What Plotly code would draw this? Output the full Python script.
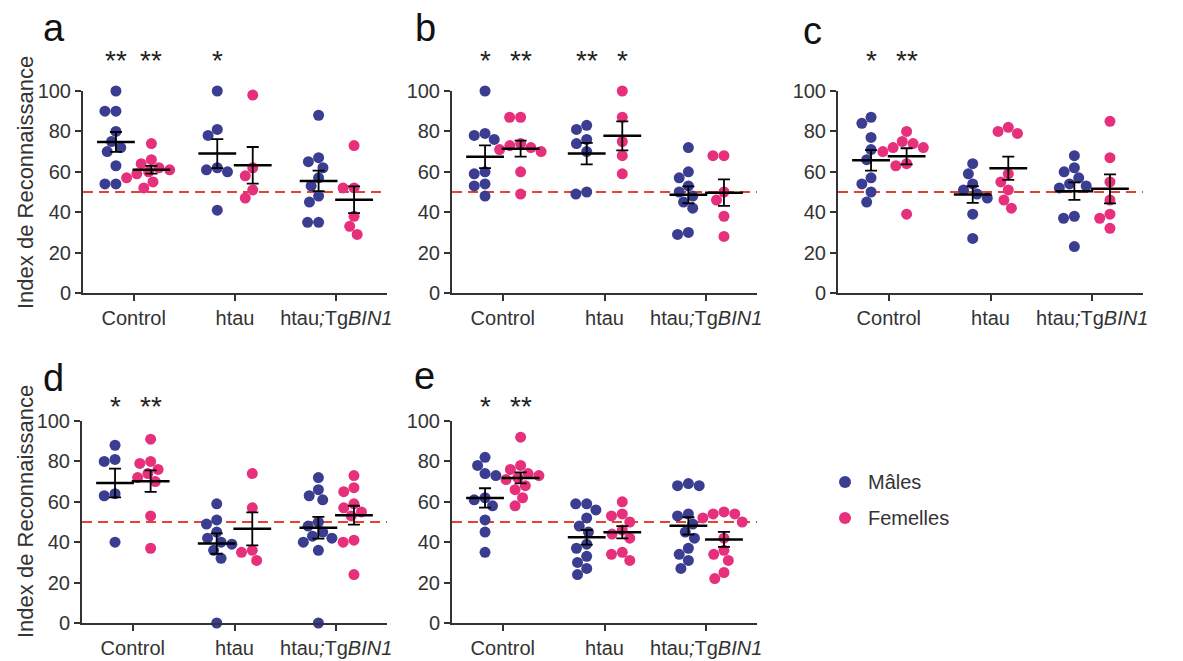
import math
import numpy as np
import plotly.graph_objects as go

# the page body has an 8px margin, so the figure is drawn 8px smaller and
# every reference pixel position is shifted by that amount
PAD = 8
W, H = 1183 - PAD, 661 - PAD

categories = ["Control", "htau", "htau<i>;</i>Tg<i>BIN1</i>"]
panel_labels = ["a", "b", "c", "d", "e"]

# values per category: [Control, htau, htau;TgBIN1]
a_males = [[100, 90, 90, 80, 75, 72, 70, 63, 54, 54],
           [100, 81, 78, 62, 61, 60, 41],
           [88, 67, 65, 62, 57, 53, 48, 45, 35, 35]]
a_females = [[74, 66, 64, 62, 61, 60, 59, 57, 55, 52],
             [98, 62, 58, 51, 47],
             [73, 52, 52, 38, 33, 29]]

b_males = [[100, 79, 78, 76, 60, 59, 54, 53, 48],
           [83, 81, 76, 74, 70, 50, 49],
           [72, 60, 57, 53, 50, 48, 45, 42, 30, 29]]
b_females = [[87, 87, 74, 73, 72, 71, 70, 60, 49],
             [100, 87, 75, 68, 59],
             [68, 68, 50, 46, 38, 28]]

c_males = [[87, 84, 77, 71, 66, 57, 54, 50, 45],
           [64, 59, 54, 51, 49, 47, 39, 27],
           [68, 62, 60, 57, 54, 53, 52, 38, 37, 23]]
c_females = [[80, 75, 74, 72, 72, 70, 64, 63, 39],
             [82, 80, 79, 59, 55, 51, 46, 42],
             [85, 67, 55, 46, 39, 37, 32]]

d_males = [[88, 81, 80, 64, 63, 40],
           [59, 51, 49, 45, 42, 40, 39, 36, 32, 0],
           [72, 66, 63, 61, 50, 48, 45, 43, 42, 40, 36, 0]]
d_females = [[91, 80, 79, 76, 74, 72, 70, 53, 37],
             [74, 57, 36, 35, 31],
             [73, 67, 65, 59, 57, 55, 53, 41, 40, 24]]

e_males = [[82, 78, 74, 73, 62, 61, 58, 51, 45, 35],
           [59, 59, 56, 52, 48, 45, 39, 37, 33, 30, 27, 24],
           [69, 68, 68, 54, 53, 49, 45, 42, 37, 34, 31, 27]]
e_females = [[92, 78, 76, 74, 73, 72, 71, 68, 66, 62, 58],
             [60, 54, 53, 50, 46, 44, 42, 35, 34, 31],
             [55, 54, 54, 52, 50, 42, 36, 34, 31, 25, 22]]

# significance stars: (category index, sex, text)
a_stars = [(0, "M", "**"), (0, "F", "**"), (1, "M", "*")]
b_stars = [(0, "M", "*"), (0, "F", "**"), (1, "M", "**"), (1, "F", "*")]
c_stars = [(0, "M", "*"), (0, "F", "**")]
d_stars = [(0, "M", "*"), (0, "F", "**")]
e_stars = [(0, "M", "*"), (0, "F", "**")]

legend_names = ["Mâles", "Femelles"]
y_title = "Index de Reconnaissance"

MALE = "#3b3d90"
FEMALE = "#e6307b"
TXT = "#333333"
FONT = "Liberation Sans, Arial, sans-serif"

panels = [
    (a_males, a_females, a_stars, (83, 387), "top"),
    (b_males, b_females, b_stars, (452, 757), "top"),
    (c_males, c_females, c_stars, (838, 1143), "top"),
    (d_males, d_females, d_stars, (82, 387), "bottom"),
    (e_males, e_females, e_stars, (452, 757), "bottom"),
]
rows = {"top": (91, 293), "bottom": (421, 623)}
OFF = 0.175
DIAM = 11


def px_x(x):
    return (x - PAD) / W


def px_y(y):
    return 1 - (y - PAD) / H


def swarm(vals, xpx, ypx):
    # simple beeswarm: place each point nearest the centre without overlap
    order = sorted(range(len(vals)), key=lambda i: -vals[i])
    placed = []
    offs = [0.0] * len(vals)
    for i in order:
        y = vals[i] * ypx
        cands = {0.0}
        for px, py in placed:
            dy = y - py
            if abs(dy) < DIAM:
                d = math.sqrt(DIAM ** 2 - dy ** 2)
                cands.add(px + d)
                cands.add(px - d)
        for c in sorted(cands, key=lambda v: (abs(v), v)):
            if all((c - px) ** 2 + (y - py) ** 2 >= DIAM ** 2 - 1e-6 for px, py in placed):
                break
        placed.append((c, y))
        offs[i] = c / xpx
    return offs


fig = go.Figure()
layout = {}
annotations = []
shapes = []

for k, (males, females, stars, (x0, x1), row) in enumerate(panels):
    n = "" if k == 0 else str(k + 1)
    xa, ya = "x" + n, "y" + n
    ytop, ybot = rows[row]
    xpx = (x1 - x0) / 3.0
    ypx = (ybot - ytop) / 100.0

    for sex, groups, color, sgn in [("M", males, MALE, -1), ("F", females, FEMALE, 1)]:
        xs, ys, mx, my, se = [], [], [], [], []
        for ci, vals in enumerate(groups):
            centre = ci + sgn * OFF
            for v, o in zip(vals, swarm(vals, xpx, ypx)):
                xs.append(centre + o)
                ys.append(v)
            arr = np.array(vals, dtype=float)
            mx.append(centre)
            my.append(arr.mean())
            se.append(arr.std(ddof=1) / math.sqrt(len(arr)))
        fig.add_trace(go.Scatter(x=xs, y=ys, mode="markers", xaxis=xa, yaxis=ya,
                                 marker=dict(color=color, size=DIAM, line=dict(width=0)),
                                 cliponaxis=False, showlegend=False, hoverinfo="y"))
        fig.add_trace(go.Scatter(x=mx, y=my, mode="markers", xaxis=xa, yaxis=ya,
                                 marker=dict(symbol="line-ew", size=27, color="black",
                                             line=dict(color="black", width=2.5)),
                                 error_y=dict(type="data", array=se, color="black",
                                              thickness=1.8, width=6),
                                 cliponaxis=False, showlegend=False))

    axis_common = dict(showline=True, linecolor=TXT, linewidth=2, ticks="outside",
                       ticklen=6, tickwidth=2, tickcolor=TXT, showgrid=False,
                       zeroline=False, automargin=False,
                       tickfont=dict(size=20, color=TXT, family=FONT))
    layout["xaxis" + n] = dict(axis_common, domain=[px_x(x0), px_x(x1)], range=[-0.5, 2.5],
                               tickvals=[0, 1, 2], ticktext=categories, anchor=ya)
    layout["yaxis" + n] = dict(axis_common, domain=[px_y(ybot), px_y(ytop)], range=[0, 100],
                               tickvals=[0, 20, 40, 60, 80, 100], anchor=xa)

    shapes.append(dict(type="line", xref=xa + " domain", yref=ya, x0=0, x1=1, y0=50, y1=50,
                       line=dict(color="#e4432d", width=2, dash="10px,6px"), layer="below"))

    star_y = 61 if row == "top" else 406
    for ci, sex, txt in stars:
        annotations.append(dict(text=txt, xref=xa, yref="paper",
                                x=ci + (-OFF if sex == "M" else OFF), y=px_y(star_y),
                                showarrow=False, font=dict(size=28, color="#222", family=FONT),
                                xanchor="center", yanchor="middle"))

letter_pos = [(54, 28), (425, 28), (812, 31), (53, 378), (424, 376)]
for lab, (lx, ly) in zip(panel_labels, letter_pos):
    annotations.append(dict(text=lab, xref="paper", yref="paper", x=px_x(lx), y=px_y(ly),
                            showarrow=False, font=dict(size=38, color="#111", family=FONT),
                            xanchor="center", yanchor="middle"))

for cy in (183, 512):
    annotations.append(dict(text=y_title, xref="paper", yref="paper", x=px_x(25), y=px_y(cy),
                            textangle=-90, showarrow=False,
                            font=dict(size=22, color=TXT, family=FONT),
                            xanchor="center", yanchor="middle"))

for name, color, cy in [(legend_names[0], MALE, 482), (legend_names[1], FEMALE, 518)]:
    shapes.append(dict(type="circle", xref="paper", yref="paper",
                       xsizemode="pixel", ysizemode="pixel",
                       xanchor=px_x(845), yanchor=px_y(cy), x0=-6, x1=6, y0=-6, y1=6,
                       fillcolor=color, line=dict(width=0)))
    annotations.append(dict(text=name, xref="paper", yref="paper", x=px_x(866), y=px_y(cy),
                            showarrow=False, font=dict(size=20, color=TXT, family=FONT),
                            xanchor="left", yanchor="middle"))

fig.update_layout(width=W, height=H, margin=dict(l=0, r=0, t=0, b=0),
                  plot_bgcolor="white", paper_bgcolor="white",
                  font=dict(family=FONT, color=TXT),
                  annotations=annotations, shapes=shapes, **layout)

fig.write_html("out.html")
